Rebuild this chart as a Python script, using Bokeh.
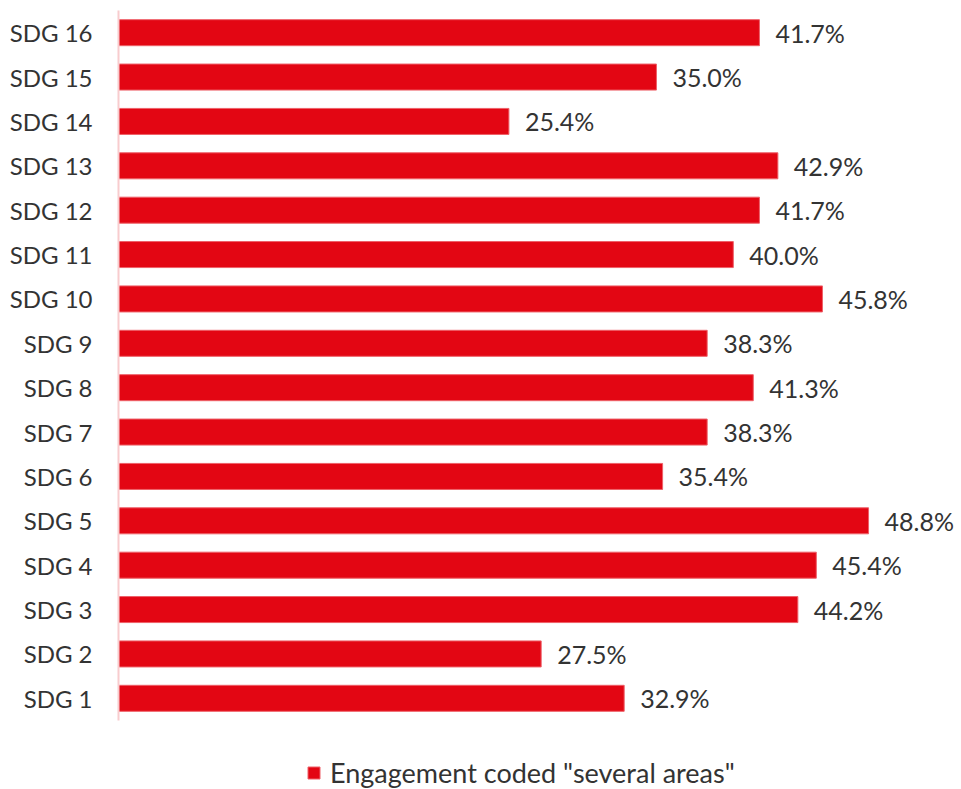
from bokeh.plotting import figure
from bokeh.models import ColumnDataSource, Range1d, Legend, LegendItem, FixedTicker
from bokeh.core.properties import value
from bokeh.embed import file_html
from bokeh.resources import INLINE

categories = ["SDG 1", "SDG 2", "SDG 3", "SDG 4", "SDG 5", "SDG 6", "SDG 7", "SDG 8",
              "SDG 9", "SDG 10", "SDG 11", "SDG 12", "SDG 13", "SDG 14", "SDG 15", "SDG 16"]
values = [32.9, 27.5, 44.2, 45.4, 48.8, 35.4, 38.3, 41.3,
          38.3, 45.8, 40.0, 41.7, 42.9, 25.4, 35.0, 41.7]
labels = ["%.1f%%" % v for v in values]
series_name = 'Engagement coded "several areas"'

RED = "#E30613"
FONT = "Lato"
TEXT = "#333333"

pos = [i + 1 for i in range(len(categories))]
src = ColumnDataSource(dict(pos=pos, cat=categories, val=values, lab=labels))

n = len(categories)
# frame: 710 px for the 16 categories, plus room below for the legend
unit = 710.0 / n
y_end = n + 0.5
y_start = y_end - 779.0 / unit

p = figure(frame_width=842, frame_height=779, output_backend="svg", toolbar_location=None,
           y_range=Range1d(y_start, y_end), x_range=Range1d(0, 842 / 15.37),
           min_border_left=118, min_border_right=0, min_border_top=10,
           min_border_bottom=0)
p.outline_line_color = None
p.grid.visible = False
p.xaxis.visible = False

r = p.hbar(y="pos", right="val", left=0, height=0.586, source=src,
           fill_color=RED, line_color="#EE6068", line_width=1)

p.text(x="val", y="pos", text="lab", source=src, x_offset=16,
       text_baseline="middle", text_align="left", text_color=TEXT,
       text_font=value(FONT), text_font_size="25px")

ax = p.yaxis[0]
ax.ticker = FixedTicker(ticks=pos)
ax.major_label_overrides = {p_: c for p_, c in zip(pos, categories)}
ax.bounds = (0.5, n + 0.5)
ax.axis_line_color = "#F8CCCE"
ax.axis_line_width = 2
ax.major_tick_line_color = None
ax.minor_tick_line_color = None
ax.major_label_text_font = FONT
ax.major_label_text_font_size = "24px"
ax.major_label_text_color = TEXT
ax.major_label_standoff = 20

legend = Legend(items=[LegendItem(label=series_name, renderers=[r])],
                location=(188, 0), orientation="horizontal",
                border_line_color=None, background_fill_alpha=0,
                label_text_font=FONT, label_text_font_size="27px",
                label_text_color=TEXT, glyph_width=15, glyph_height=15,
                label_standoff=9, padding=0, margin=0, label_height=30)
p.add_layout(legend, "center")

open("out.html", "w").write(file_html(p, INLINE))
